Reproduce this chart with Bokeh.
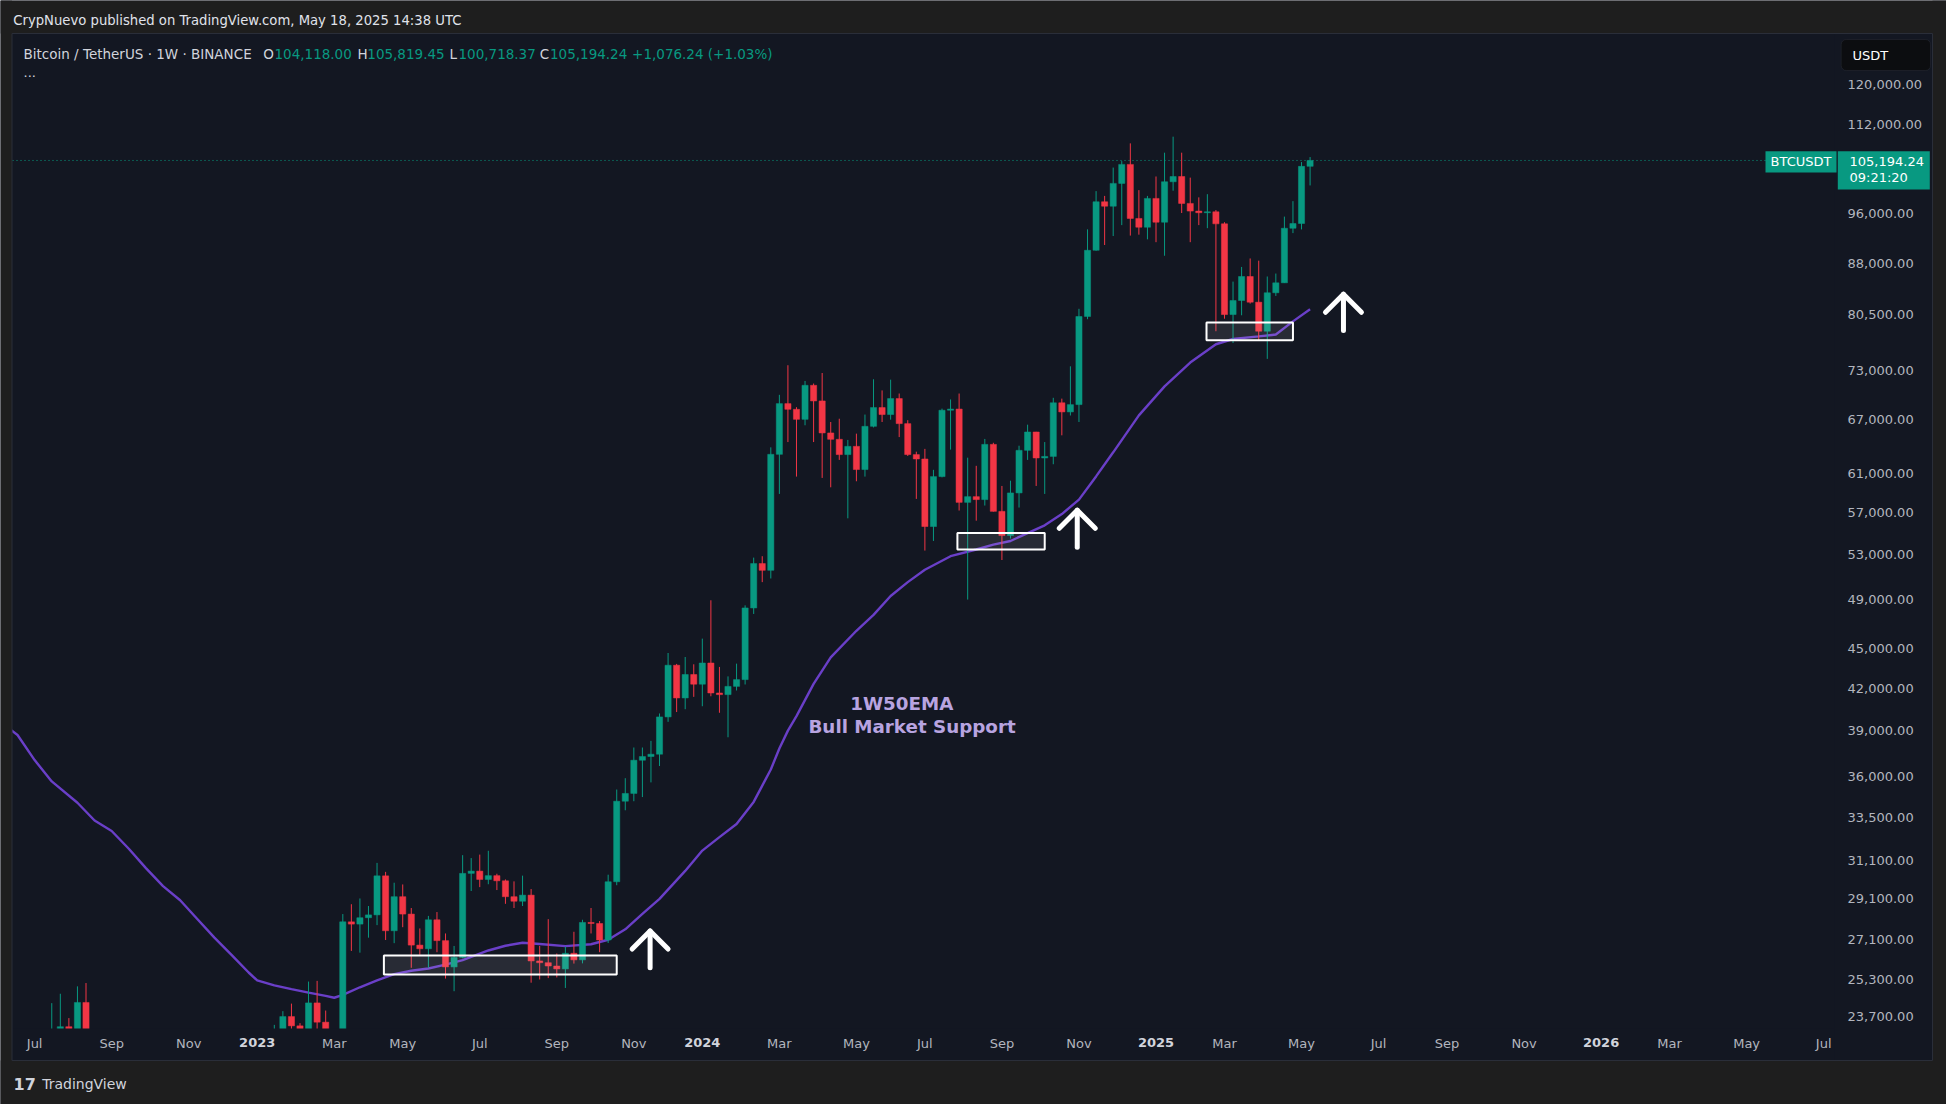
import numpy as np
import pandas as pd
from bokeh.plotting import figure
from bokeh.models import (Range1d, FixedTicker, NumeralTickFormatter, Label,
                          BoxAnnotation, ColumnDataSource)
from bokeh.core.properties import value
from bokeh.embed import file_html
from bokeh.resources import INLINE

# ---------------------------------------------------------------- data
FIRST_WEEK = "2022-06-20"          # first weekly bar (Monday)
REF_WEEK = "2023-01-02"            # week index 0

opens = [20553, 21027, 19298, 20831, 20785, 22580, 23296, 23174, 24300, 21138,
         19550, 19800, 21830, 19420, 18800, 19310, 19420, 19070, 19570, 20630,
         21300, 16330, 16280, 16430, 17110, 17090, 16780, 16840,
         16540, 17130, 20870, 22700, 23710, 23330, 21780, 24280, 23480, 22430,
         22160, 27960, 27850, 28160, 28300, 30290, 27530, 29210, 28340, 26850,
         26680, 28060, 27060, 25850, 26280, 30420, 30540, 30100, 30300, 30030,
         29210, 28980, 29290, 26120, 26040, 25890, 25760, 26470, 26170, 27930,
         27880, 27090, 29980, 34490, 34960, 37040, 37280, 37430, 39940, 43700,
         41280, 43000,
         42280, 43870, 41640, 41520, 42120, 42620, 48280, 52160, 51550, 63080,
         68900, 68220, 67040, 71130, 69220, 65470, 64750, 63050, 63960, 61430,
         66230, 68430, 67600, 69510, 66540, 63050, 62570, 55630, 60680, 68110,
         68250, 58020, 58600, 58300, 64180, 57120, 54760, 58980, 63520, 65580,
         62680, 62850, 69000, 67910, 68780, 80180, 89970, 97900, 97150, 101080,
         104480, 95100, 93660,
         98470, 94480, 101370, 102300, 97620, 96320, 96050, 96200, 94210, 80450,
         82440, 85960, 82200, 78150, 83560, 85020, 93490, 94260, 104118]
highs = [21868, 21539, 22527, 21200, 24270, 24670, 23647, 24990, 25135, 21900,
         20580, 22800, 22770, 19950, 20400, 20480, 19950, 19700, 21090, 21480,
         21470, 17190, 16810, 17420, 17300, 18390, 17060, 16970,
         17400, 21260, 23370, 23935, 24250, 23440, 25200, 25230, 23960, 22600,
         28340, 28830, 29120, 28740, 30980, 30500, 29930, 29840, 28640, 27640,
         28250, 28440, 27400, 26810, 31400, 31240, 31430, 31640, 30400, 30100,
         30000, 30300, 29600, 26810, 28090, 26460, 26780, 27480, 28060, 28640,
         28000, 30350, 35200, 35900, 37870, 37870, 38310, 40180, 44640, 43800,
         44330, 43770,
         45770, 48930, 43570, 42860, 43820, 48500, 52700, 52830, 63850, 69960,
         73660, 68470, 71670, 71350, 72670, 66730, 67110, 64680, 65390, 67600,
         71880, 70500, 71830, 70120, 66940, 63370, 63680, 61400, 68300, 69400,
         70120, 62710, 61830, 64790, 64360, 59700, 60250, 64030, 66420, 65600,
         64440, 69600, 69500, 73520, 81260, 93310, 99730, 98900, 103900, 105080,
         108370, 99900, 98900,
         102300, 106630, 109640, 106630, 102100, 98650, 99200, 96500, 94480, 85200,
         87400, 88700, 88360, 85960, 86400, 95400, 98000, 104900, 105819.45]
lows = [19637, 18626, 19000, 18910, 20760, 20706, 22400, 22664, 20761, 19520,
        19540, 18540, 19320, 18125, 18470, 19170, 18190, 18900, 19230, 20050,
        15590, 16250, 15480, 16000, 16880, 16530, 16330, 16460,
        16500, 17100, 20400, 22300, 22500, 21450, 21530, 23100, 21970, 19550,
        21900, 26580, 26500, 27200, 27800, 27090, 26940, 27700, 25810, 26400,
        25810, 26520, 25330, 24780, 26240, 29500, 29700, 29850, 29550, 28850,
        28640, 28740, 25150, 25290, 25350, 25380, 24920, 26000, 26010, 27400,
        26520, 26950, 29800, 33950, 34490, 34740, 35640, 36670, 39600, 40280,
        40480, 41360,
        40690, 41400, 40230, 38550, 41820, 42260, 47780, 50500, 50820, 58880,
        64440, 60680, 66350, 64440, 60540, 59560, 62470, 56430, 60190, 60680,
        66100, 66730, 67000, 65000, 62900, 58370, 53350, 54250, 60600, 63600,
        57200, 48990, 56200, 57700, 57100, 52480, 54480, 57500, 62470, 59700,
        58880, 62000, 65200, 67490, 66730, 79800, 89900, 90800, 92230, 94000,
        92300, 92450, 91700,
        91250, 89120, 99800, 96000, 91250, 94000, 93500, 78150, 79870, 76560,
        80350, 82000, 76890, 74480, 83100, 85000, 92700, 93300, 100718.37]
closes = [21027, 19298, 20831, 20785, 22580, 23296, 23174, 24300, 21138, 19550,
          19800, 21830, 19420, 18800, 19310, 19420, 19070, 19570, 20630, 21300,
          16330, 16280, 16430, 17110, 17090, 16780, 16840, 16540,
          17130, 20870, 22700, 23710, 23330, 21780, 24280, 23480, 22430, 22160,
          27960, 27850, 28160, 28300, 30290, 27530, 29210, 28340, 26850, 26680,
          28060, 27060, 25850, 26280, 30420, 30540, 30100, 30300, 30030, 29210,
          28980, 29290, 26120, 26040, 25890, 25760, 26470, 26170, 27930, 27880,
          27090, 29980, 34490, 34960, 37040, 37280, 37430, 39940, 43700, 41280,
          43000, 42280,
          43870, 41640, 41520, 42120, 42620, 48280, 52160, 51550, 63080, 68900,
          68220, 67040, 71130, 69220, 65470, 64750, 63050, 63960, 61430, 66230,
          68430, 67600, 69510, 66540, 63050, 62570, 55630, 60680, 68110, 68250,
          58020, 58600, 58300, 64180, 57120, 54760, 58980, 63520, 65580, 62680,
          62850, 69000, 67910, 68780, 80180, 89970, 97900, 97150, 101080, 104480,
          95100, 93660, 98470,
          94480, 101370, 102300, 97620, 96320, 96050, 96200, 94210, 80450, 82440,
          85960, 82200, 78150, 83560, 85020, 93490, 94260, 104118, 105194.24]

# 1W 50 EMA (weeks since 2023-01-02, value)
ema_week = [-29, -28, -26, -24, -21, -19, -17, -15, -13, -11, -9, -7, -5, -3, -1,
            0, 2, 4, 6, 8, 9, 10, 12, 14, 16, 18, 20, 22, 24, 27, 29, 31, 33, 36,
            39, 41, 43, 45, 47, 50, 52, 54, 56, 58, 60, 61, 62, 63, 65, 67, 70,
            72, 74, 76, 78, 81, 84, 86, 88, 90, 92, 94, 96, 98, 100, 103, 106,
            109, 112, 114, 117, 119, 121, 123]
ema_value = [39150, 38700, 37050, 35700, 34400, 33350, 32750, 31750, 30700, 29750,
             29030, 28100, 27200, 26400, 25600, 25250, 25030, 24870, 24720, 24580,
             24500, 24620, 24950, 25250, 25530, 25680, 25780, 25950, 26160, 26600,
             26820, 26960, 26900, 26800, 26890, 27100, 27600, 28350, 29100, 30550,
             31650, 32400, 33150, 34450, 36450, 37800, 39000, 40000, 42300, 44300,
             46400, 47700, 49300, 50500, 51600, 52830, 53450, 53900, 54250, 55000,
             55750, 56850, 58300, 60700, 63300, 67500, 71000, 74000, 76400, 77100,
             77450, 77700, 79500, 81200]

# time-axis ticks
month_tick_dates = ["2022-07-04", "2022-09-05", "2022-11-07", "2023-03-06", "2023-05-01",
                    "2023-07-03", "2023-09-04", "2023-11-06", "2024-03-04", "2024-05-06",
                    "2024-07-01", "2024-09-02", "2024-11-04", "2025-03-03", "2025-05-05",
                    "2025-07-07", "2025-09-01", "2025-11-03", "2026-03-02", "2026-05-04",
                    "2026-07-06"]
month_tick_labels = ["Jul", "Sep", "Nov", "Mar", "May", "Jul", "Sep", "Nov", "Mar", "May",
                     "Jul", "Sep", "Nov", "Mar", "May", "Jul", "Sep", "Nov", "Mar", "May",
                     "Jul"]
year_tick_dates = ["2023-01-02", "2024-01-01", "2025-01-06", "2026-01-05"]
year_tick_labels = ["2023", "2024", "2025", "2026"]

price_ticks = [23700, 25300, 27100, 29100, 31100, 33500, 36000, 39000, 42000, 45000,
               49000, 53000, 57000, 61000, 67000, 73000, 80500, 88000, 96000, 112000,
               120000]

# drawings (weeks since 2023-01-02 / prices)
zone_left = [14.8, 81.8, 110.9]
zone_right = [42.0, 92.0, 121.0]
zone_bottom = [25510, 53440, 76940]
zone_top = [26370, 55010, 79340]

arrow_week = [45.9, 95.8, 126.9]
arrow_tip = [27520, 57230, 83350]
arrow_tail = [25810, 53650, 78250]

note_week = [75.3, 76.5]
note_price = [40850, 39280]
note_text = ["1W50EMA", "Bull Market Support"]

last_price = 105194.24

# ---------------------------------------------------------------- layout
W, H = 1946, 1104
PANEL = "#131722"
OUTER = "#1e1e1e"
BORDER = "#2a2e39"
GREEN = "#089981"
RED = "#f23645"
AXIS_TXT = "#b2b5be"
TXT = "#d1d4dc"
FONT = "DejaVu Sans"

# pixel geometry of the chart pane (the figure frame covers the whole page)
PX_W0, PX_PER_WEEK = 256.7, 8.56          # x pixel of week 0, pixels per week
PY_REF, PRICE_REF, PX_PER_LN = 84.3, 120000.0, 574.6
PANE_L, PANE_T, PANE_R, PANE_B = 11.5, 33, 1932, 1060
PLOT_L, PLOT_R, PLOT_B = 12, 1834, 1028


def wk_of(px):
    return (px - PX_W0) / PX_PER_WEEK


def pr_of(py):
    return PRICE_REF * np.exp(-(py - PY_REF) / PX_PER_LN)


ref = pd.Timestamp(REF_WEEK)
dates = pd.date_range(FIRST_WEEK, periods=len(closes), freq="7D")
wk = np.array([(d - ref).days / 7.0 for d in dates])

o = np.array(opens, float); h = np.array(highs, float)
l = np.array(lows, float); c = np.array(closes, float)
col = np.where(c >= o, GREEN, RED)
src = ColumnDataSource(dict(x=wk, o=o, h=h, l=l, c=c,
                            top=np.maximum(o, c), bottom=np.minimum(o, c), color=col))


def to_week(s):
    return int(round((pd.Timestamp(s) - ref).days / 7.0))


month_pos = [to_week(s) for s in month_tick_dates]
year_pos = [to_week(s) for s in year_tick_dates]

p = figure(width=W, height=H, output_backend="svg", toolbar_location=None,
           y_axis_type="log", y_axis_location="right",
           x_range=Range1d(wk_of(0), wk_of(W)), y_range=Range1d(pr_of(H), pr_of(0)),
           min_border=0)
p.title.visible = False
p.border_fill_color = PANEL
p.background_fill_color = PANEL
p.outline_line_color = None
p.grid.visible = False

yax = p.yaxis[0]
yax.fixed_location = wk_of(PLOT_R)
yax.ticker = FixedTicker(ticks=price_ticks)
yax.formatter = NumeralTickFormatter(format="0,0.00")
yax.major_label_text_font = FONT
yax.major_label_text_font_size = "13px"
yax.major_label_text_color = AXIS_TXT
yax.axis_line_color = None
yax.major_tick_line_color = None
yax.minor_tick_line_color = None
yax.major_tick_out = 0
yax.major_tick_in = 0
yax.major_label_standoff = 13

xax = p.xaxis[0]
xax.fixed_location = pr_of(PLOT_B)
xax.ticker = FixedTicker(ticks=month_pos)
xax.major_label_overrides = {pos: lab for pos, lab in zip(month_pos, month_tick_labels)}
xax.major_label_text_font = FONT
xax.major_label_text_font_size = "13px"
xax.major_label_text_color = AXIS_TXT
xax.axis_line_color = None
xax.major_tick_line_color = None
xax.minor_tick_line_color = None
xax.major_tick_out = 0
xax.major_tick_in = 0
xax.major_label_standoff = 7

# last price line (dotted)
p.segment(x0=[wk_of(PLOT_L)], y0=[last_price], x1=[wk_of(PLOT_R)], y1=[last_price],
          line_color=GREEN, line_dash="1 3", line_width=1)

# EMA
p.line(ema_week, ema_value, line_color="#6a3fc8", line_width=2.4)

# candles
p.segment(x0="x", y0="l", x1="x", y1="h", line_color="color", line_width=1, source=src)
p.vbar(x="x", width=0.72, top="top", bottom="bottom", fill_color="color",
       line_color="color", line_width=0.5, source=src)

# zones
p.quad(left=zone_left, right=zone_right, top=zone_top, bottom=zone_bottom,
       fill_color="white", fill_alpha=0.09, line_color="white", line_width=2)

# arrows
ARM_W, ARM_DROP = 2.1, 0.969
xs, ys = [], []
for aw, at, al in zip(arrow_week, arrow_tip, arrow_tail):
    xs.append([aw, aw]); ys.append([at, al])
    xs.append([aw - ARM_W, aw, aw + ARM_W]); ys.append([at * ARM_DROP, at, at * ARM_DROP])
p.multi_line(xs, ys, line_color="white", line_width=5, line_cap="round", line_join="round")

# note
p.text(x=note_week, y=note_price, text=note_text, text_font=value(FONT),
       text_font_style="bold", text_font_size="18.3px", text_align="center",
       text_baseline="middle", text_color="#b8a4e0")

# scale strips (pane colour) and page surround (outer colour), drawn over the series
strips_l = [PLOT_L, PLOT_R]
strips_r = [PANE_R, PANE_R]
strips_t = [PLOT_B, PANE_T]
strips_b = [PANE_B, PANE_B]
p.quad(left=[wk_of(v) for v in strips_l], right=[wk_of(v) for v in strips_r],
       top=[pr_of(v) for v in strips_t], bottom=[pr_of(v) for v in strips_b],
       fill_color=PANEL, line_color=None)
outer_l = [0, 0, 0, PANE_R]
outer_r = [W, W, PANE_L, W]
outer_t = [0, PANE_B, 0, 0]
outer_b = [PANE_T, H, H, H]
p.quad(left=[wk_of(v) for v in outer_l], right=[wk_of(v) for v in outer_r],
       top=[pr_of(v) for v in outer_t], bottom=[pr_of(v) for v in outer_b],
       fill_color=OUTER, line_color=None)
p.quad(left=[wk_of(PANE_L)], right=[wk_of(PANE_R)], top=[pr_of(PANE_T)], bottom=[pr_of(PANE_B)],
       fill_color=None, line_color=BORDER, line_width=1)

# year labels on the time axis
for pos, lab in zip(year_pos, year_tick_labels):
    p.add_layout(Label(x=pos, y=1042, x_units="data", y_units="canvas", text=lab,
                       text_align="center", text_baseline="middle", text_font=FONT,
                       text_font_size="13px", text_font_style="bold", text_color=TXT))


def clabel(x, y, text, color=TXT, size="13px", style="normal", align="left"):
    p.add_layout(Label(x=x, y=y, x_units="canvas", y_units="canvas", text=text,
                       text_align=align, text_baseline="middle", text_font=FONT,
                       text_font_size=size, text_font_style=style, text_color=color))


def cbox(l_, r_, t_, b_, **kw):
    return BoxAnnotation(left=l_, right=r_, top=t_, bottom=b_,
                         left_units="canvas", right_units="canvas",
                         top_units="canvas", bottom_units="canvas", **kw)


# header / legend
clabel(12.8, 20, "CrypNuevo published on TradingView.com, May 18, 2025 14:38 UTC",
       color="#e0e3eb", size="13.2px")
clabel(23, 53.3, "Bitcoin / TetherUS \u00b7 1W \u00b7 BINANCE", size="13.5px")
for lx, lt, vx, vt in [(262.8, "O", 274, "104,118.00"), (357, "H", 366.8, "105,819.45"),
                       (449, "L", 458, "100,718.37"), (539.3, "C", 549.5, "105,194.24")]:
    clabel(lx, 53.3, lt, size="13.5px")
    clabel(vx, 53.3, vt, color=GREEN, size="13.5px")
clabel(631.6, 53.3, "+1,076.24 (+1.03%)", color=GREEN, size="13.5px")
clabel(23, 72, "...")

# USDT box
p.add_layout(cbox(1840.7, 1930, 39, 70, fill_color="#0c0d10", fill_alpha=1,
                  line_color="#3a3e48", line_width=1, border_radius=5))
clabel(1852, 55, "USDT", color="#ffffff")

# price tags
p.add_layout(cbox(1765, 1836, 150.7, 172, fill_color=GREEN, fill_alpha=1, line_color=None))
clabel(1800.5, 161.4, "BTCUSDT", color="#ffffff", align="center")
p.add_layout(cbox(1837.3, 1929.3, 150.7, 189, fill_color=GREEN, fill_alpha=1, line_color=None))
clabel(1849, 161, "105,194.24", color="#ffffff")
clabel(1849, 177, "09:21:20", color="#ffffff")

# footer
clabel(13, 1083, "17", color=TXT, size="16px", style="bold")
clabel(41.7, 1083, "TradingView", color=TXT, size="14px")

open("out.html", "w").write(file_html(p, INLINE))
